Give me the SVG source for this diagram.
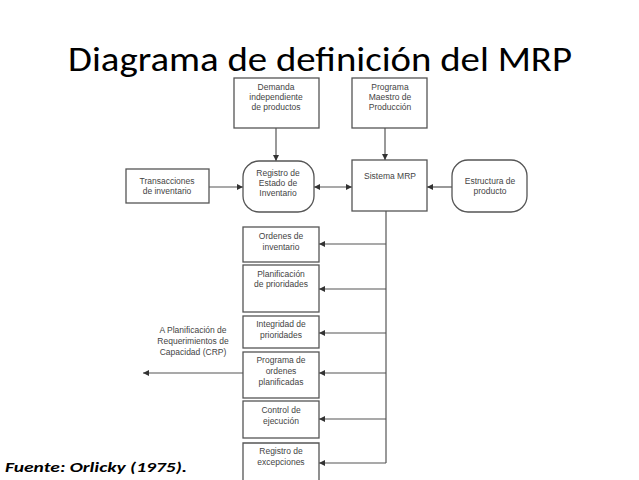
<svg xmlns="http://www.w3.org/2000/svg" width="639" height="480" viewBox="0 0 639 480">
<style>
.b{fill:#fff;stroke:#555;stroke-width:1.3}
.t{font-family:"Liberation Sans",Arial,sans-serif;font-size:8.5px;fill:#444;text-anchor:middle}
.c{stroke:#555;stroke-width:1.2;fill:none}
</style>
<defs><marker id="a" viewBox="0 0 10 10" refX="10" refY="5" markerWidth="5" markerHeight="5" orient="auto-start-reverse"><path d="M0,0L10,5L0,10z" fill="#333"/></marker></defs>
<rect width="639" height="480" fill="#fff"/>
<text x="320" y="71" font-family="Calibri,Carlito,'Liberation Sans',sans-serif" font-size="35" text-anchor="middle" textLength="504" lengthAdjust="spacingAndGlyphs" fill="#000">Diagrama de definición del MRP</text>
<g id="connectors">
<path class="c" d="M276,128V161" marker-end="url(#a)"/>
<path class="c" d="M385,128V160" marker-end="url(#a)"/>
<path class="c" d="M209,187H243" marker-end="url(#a)"/>
<path class="c" d="M314,187H352" marker-start="url(#a)" marker-end="url(#a)"/>
<path class="c" d="M452,187H427" marker-end="url(#a)"/>
<path class="c" d="M386,211V463"/>
<path class="c" d="M386,244H319" marker-end="url(#a)"/>
<path class="c" d="M386,289H319" marker-end="url(#a)"/>
<path class="c" d="M386,333H319" marker-end="url(#a)"/>
<path class="c" d="M386,373H319" marker-end="url(#a)"/>
<path class="c" d="M386,419H319" marker-end="url(#a)"/>
<path class="c" d="M386,463H319" marker-end="url(#a)"/>
<path class="c" d="M243,373H143" marker-end="url(#a)"/>
</g>
<g id="demanda"><rect class="b" x="234" y="78" width="85" height="50"/><text class="t"><tspan x="276" y="90">Demanda</tspan><tspan x="276" y="100">independiente</tspan><tspan x="276" y="110">de productos</tspan></text></g>
<g id="programa"><rect class="b" x="352" y="78" width="75" height="50"/><text class="t"><tspan x="390" y="90">Programa</tspan><tspan x="390" y="100">Maestro de</tspan><tspan x="390" y="110">Producción</tspan></text></g>
<g id="transacciones"><rect class="b" x="126" y="169" width="83" height="34"/><text class="t"><tspan x="167" y="184">Transacciones</tspan><tspan x="167" y="194">de inventario</tspan></text></g>
<g id="registro"><rect class="b" x="243" y="161" width="71" height="51" rx="16"/><text class="t"><tspan x="278" y="176">Registro de</tspan><tspan x="278" y="186">Estado de</tspan><tspan x="278" y="196">Inventario</tspan></text></g>
<g id="sistema"><rect class="b" x="352" y="160" width="75" height="51"/><text class="t" x="390" y="179">Sistema MRP</text></g>
<g id="estructura"><rect class="b" x="452" y="160" width="75" height="52" rx="16"/><text class="t"><tspan x="490" y="184">Estructura de</tspan><tspan x="490" y="194">producto</tspan></text></g>
<g id="ordenes"><rect class="b" x="243" y="227" width="76" height="35"/><text class="t"><tspan x="281" y="239">Ordenes de</tspan><tspan x="281" y="250">inventario</tspan></text></g>
<g id="planificacion"><rect class="b" x="243" y="265" width="76" height="47"/><text class="t"><tspan x="281" y="277">Planificación</tspan><tspan x="281" y="287">de prioridades</tspan></text></g>
<g id="integridad"><rect class="b" x="243" y="316" width="76" height="32"/><text class="t"><tspan x="281" y="327">Integridad de</tspan><tspan x="281" y="338">prioridades</tspan></text></g>
<g id="programaOrdenes"><rect class="b" x="243" y="352" width="76" height="46"/><text class="t"><tspan x="281" y="363">Programa de</tspan><tspan x="281" y="374">ordenes</tspan><tspan x="281" y="385">planificadas</tspan></text></g>
<g id="control"><rect class="b" x="243" y="401" width="76" height="37"/><text class="t"><tspan x="281" y="413">Control de</tspan><tspan x="281" y="424">ejecución</tspan></text></g>
<g id="excepciones"><path class="b" d="M243,481V443H319V481"/><text class="t"><tspan x="281" y="454">Registro de</tspan><tspan x="281" y="465">excepciones</tspan></text></g>
<g id="crp"><text class="t"><tspan x="193" y="333">A Planificación de</tspan><tspan x="193" y="344">Requerimientos de</tspan><tspan x="193" y="355">Capacidad (CRP)</tspan></text></g>
<text x="5" y="472" font-family="Calibri,Carlito,'Liberation Sans',sans-serif" font-size="14" font-weight="bold" font-style="italic" textLength="182" lengthAdjust="spacingAndGlyphs" fill="#000">Fuente: Orlicky (1975).</text>
</svg>
